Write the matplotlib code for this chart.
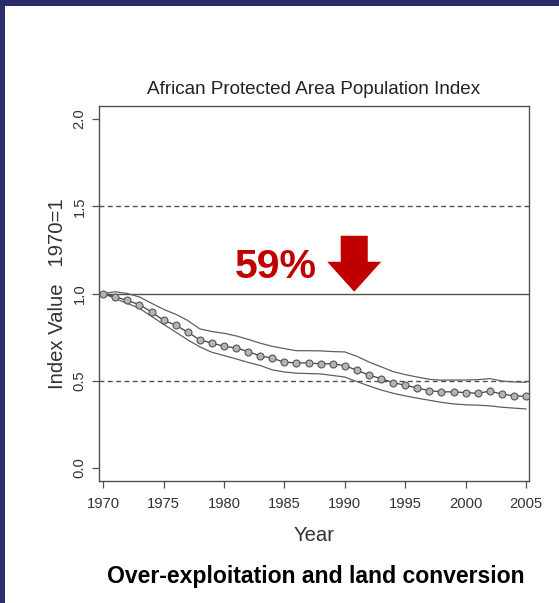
import numpy as np
import matplotlib
matplotlib.use('Agg')
import matplotlib.pyplot as plt
from matplotlib.patches import Rectangle, FancyArrow

plt.rcParams['font.family'] = ['Liberation Sans', 'DejaVu Sans']

years = np.arange(1970, 2006)

# index values, 1970 = 1
index_vals = [1.00, 0.98, 0.96, 0.936, 0.894, 0.846, 0.819, 0.778, 0.734, 0.716,
              0.697, 0.688, 0.667, 0.642, 0.629, 0.606, 0.603, 0.601, 0.597, 0.597,
              0.586, 0.560, 0.532, 0.512, 0.489, 0.474, 0.458, 0.443, 0.436, 0.436,
              0.432, 0.428, 0.440, 0.424, 0.413, 0.410]

upper_ci = [1.00, 1.01, 1.00, 0.98, 0.944, 0.909, 0.881, 0.845, 0.797, 0.782,
            0.772, 0.757, 0.737, 0.715, 0.697, 0.684, 0.672, 0.672, 0.671, 0.667,
            0.665, 0.640, 0.607, 0.580, 0.552, 0.535, 0.521, 0.508, 0.503, 0.504,
            0.504, 0.506, 0.512, 0.498, 0.493, 0.491]

lower_ci = [1.00, 0.97, 0.943, 0.915, 0.869, 0.823, 0.779, 0.734, 0.694, 0.663,
            0.644, 0.625, 0.605, 0.587, 0.562, 0.550, 0.543, 0.541, 0.539, 0.530,
            0.521, 0.495, 0.470, 0.447, 0.428, 0.413, 0.400, 0.388, 0.376, 0.367,
            0.362, 0.360, 0.356, 0.348, 0.343, 0.338]

x_ticks = [1970, 1975, 1980, 1985, 1990, 1995, 2000, 2005]
y_ticks = [0.0, 0.5, 1.0, 1.5, 2.0]
decline = round((1 - index_vals[-1]) * 100)

fig = plt.figure(figsize=(5.59, 6.03), dpi=100)
fig.patch.set_facecolor('white')

# slide frame
navy = '#2c2e6b'
fig.patches.append(Rectangle((0, 1 - 6 / 603), 1, 6 / 603, transform=fig.transFigure,
                             facecolor=navy, edgecolor='none'))
fig.patches.append(Rectangle((0, 0), 5 / 559, 1, transform=fig.transFigure,
                             facecolor=navy, edgecolor='none'))

ax = fig.add_axes([99 / 559, 1 - 481 / 603, 430 / 559, 375 / 603])
line_col = '#505050'

ax.axhline(1.0, color=line_col, lw=1.0, zorder=1)
for yv in (0.5, 1.5):
    ax.axhline(yv, color=line_col, lw=1.0, ls=(0, (3.5, 2.5)), zorder=1)

ax.plot(years, upper_ci, color='#606060', lw=0.9, zorder=2)
ax.plot(years, lower_ci, color='#606060', lw=0.9, zorder=2)
ax.plot(years, index_vals, color='#404040', lw=0.9, marker='o', ms=5,
        mfc='#b4b4b4', mec='#555555', mew=0.8, zorder=3)

ax.set_xlim(1969.65, 2005.25)
ax.set_ylim(-0.075, 2.075)
ax.set_xticks(x_ticks)
ax.set_yticks(y_ticks)
ax.set_yticklabels([f'{v:.1f}' for v in y_ticks], rotation=90, va='center')
ax.tick_params(direction='out', length=5, width=0.9, colors=line_col,
               labelcolor='#333333', labelsize=10.6)
ax.tick_params(axis='x', pad=6.5)
ax.tick_params(axis='y', pad=4)
for s in ax.spines.values():
    s.set_color(line_col)
    s.set_linewidth(1.0)

ax.set_title('African Protected Area Population Index', fontsize=13.6,
             color='#222222', pad=9)
ax.set_xlabel('Year', fontsize=14.6, color='#333333', labelpad=11)
ax.set_ylabel('Index Value   1970=1', fontsize=14.6, color='#333333', labelpad=4)

red = '#c00000'
ax.text(1984.3, 1.089, f'{decline}%', color=red, fontsize=29.5, fontweight='bold',
        ha='center', va='baseline')
ax.add_patch(FancyArrow(1990.78, 1.331, 0, -0.321, width=2.24, head_width=4.47,
                        head_length=0.172, length_includes_head=True,
                        facecolor=red, edgecolor='none', zorder=4))

fig.text(316 / 559, 1 - 576 / 603, 'Over-exploitation and land conversion',
         fontsize=16.6, fontweight='bold', ha='center', va='center', color='black')

fig.savefig('out.png', dpi=100)
